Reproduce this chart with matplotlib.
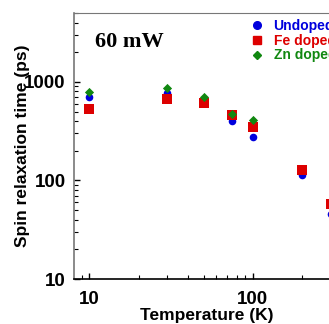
import matplotlib
matplotlib.use("Agg")
import matplotlib.pyplot as plt
from matplotlib.lines import Line2D

temps_undoped = [10, 30, 50, 75, 100, 200, 300]
tau_undoped = [710, 780, 640, 405, 274, 114, 46]
temps_fe = [10, 30, 50, 75, 100, 200, 300]
tau_fe = [535, 676, 607, 462, 346, 128, 58]
temps_zn = [10, 30, 50, 75, 100]
tau_zn = [797, 869, 710, 469, 411]

labels = ["Undoped", "Fe doped", "Zn doped"]
colors = ["#0000dd", "#dd0000", "#118811"]

plt.rcParams['font.family'] = ['Liberation Sans', 'DejaVu Sans']
fig = plt.figure(figsize=(3.29, 3.24), dpi=100)
W, H = 329, 324
ax = fig.add_axes([74 / W, 1 - 279 / H, 277 / W, (279 - 13) / H])

ax.scatter(temps_undoped, tau_undoped, marker='o', s=30, color=colors[0], zorder=3, linewidths=0)
ax.scatter(temps_fe, tau_fe, marker='s', s=42, color=colors[1], zorder=4, linewidths=0)
ax.scatter(temps_zn, tau_zn, marker='D', s=22, color=colors[2], zorder=5, linewidths=0)

ax.set_xscale('log')
ax.set_yscale('log')
ax.set_xlim(8.05, 400)
ax.set_ylim(10, 5000)
ax.set_xticks([10, 100])
ax.set_xticklabels(['10', '100'])
ax.set_yticks([10, 100, 1000])
ax.set_yticklabels(['10', '100', '1000'])
ax.tick_params(which='both', direction='in', top=False, right=False)
ax.tick_params(which='major', length=4, width=1, labelsize=13.5)
ax.tick_params(axis='x', which='major', pad=9)
ax.tick_params(axis='y', which='major', pad=6)
ax.tick_params(which='minor', length=3, width=0.8)
for lab in ax.get_xticklabels() + ax.get_yticklabels():
    lab.set_fontweight('bold')
ax.spines['left'].set_color('#777777')
ax.spines['top'].set_color('#777777')
ax.spines['bottom'].set_color('black')
ax.spines['bottom'].set_linewidth(1.2)
ax.spines['left'].set_linewidth(1.2)

ax.set_xlabel('Temperature (K)', fontsize=12.5, fontweight='bold')
ax.set_ylabel('Spin relaxation time (ps)', fontsize=12.5, fontweight='bold')
ax.xaxis.set_label_coords((207 - 74) / 277, -(323 - 279) / (279 - 13))
ax.xaxis.label.set_va('bottom')
ax.yaxis.set_label_coords(-(74 - 15) / 277, 0.5)
ax.yaxis.label.set_va('top')

fig.text(95 / W, 1 - 42 / H, '60 mW', fontsize=16, fontweight='bold',
         family=['Liberation Serif', 'DejaVu Serif'], va='center', ha='left')

handles = [
    Line2D([], [], marker='o', ls='none', color=colors[0], markersize=5.5),
    Line2D([], [], marker='s', ls='none', color=colors[1], markersize=6),
    Line2D([], [], marker='D', ls='none', color=colors[2], markersize=4.5),
]
leg = fig.legend(handles, labels, loc='upper left', bbox_to_anchor=(250 / W, 1 - 19 / H),
                 frameon=False, handlelength=1.0, handletextpad=0.7, labelspacing=0.05,
                 borderaxespad=0, borderpad=0,
                 prop={'weight': 'bold', 'size': 10})
for t, c in zip(leg.get_texts(), colors):
    t.set_color(c)

fig.savefig('out.png', dpi=100)
